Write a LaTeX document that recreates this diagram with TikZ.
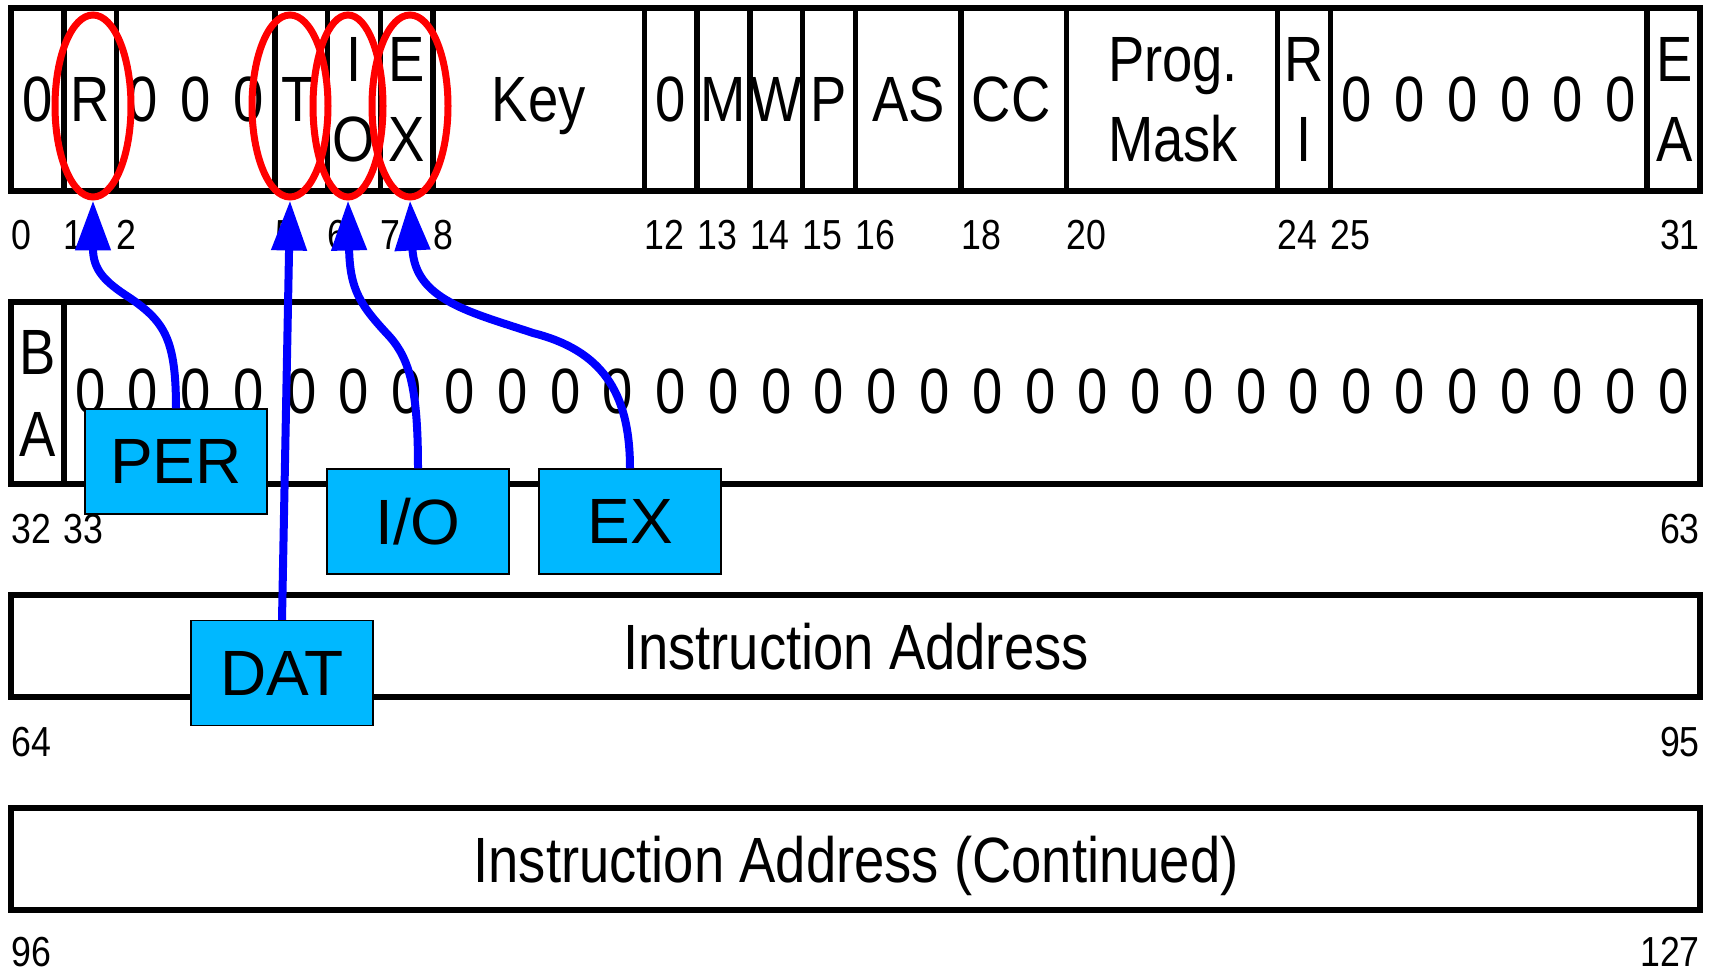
\documentclass[tikz,border=0pt]{standalone}
\usepackage{fontspec}
\usetikzlibrary{arrows.meta,shapes.geometric}
\newfontfamily\narrowfont[FakeStretch=0.85]{Liberation Sans}
\newfontfamily\boxfont{Liberation Sans}
\definecolor{boxblue}{RGB}{0,184,255}
\definecolor{markred}{RGB}{255,0,0}
\definecolor{linkblue}{RGB}{0,0,255}
\begin{document}
\begin{tikzpicture}[x=1pt,y=-1pt,
  cellline/.style={line width=5.5pt, draw=black},
  lbl/.style={font=\narrowfont\fontsize{64}{77}\selectfont, inner sep=0pt, anchor=base},
  num/.style={font=\narrowfont\fontsize{42}{50}\selectfont, inner sep=0pt},
  redring/.style={ellipse, draw=markred, line width=7pt, minimum width=76pt, minimum height=182pt, inner sep=0pt},
  flagbox/.style={rectangle, fill=boxblue, draw=black, line width=1.2pt, minimum width=182pt, minimum height=105pt, inner sep=0pt, font=\boxfont\fontsize{64}{77}\selectfont},
  link/.style={draw=linkblue, line width=8pt, -{Triangle[length=50pt,width=34pt]}},
]
\fill[white] (0,0) rectangle (1713,973);
\useasboundingbox (0,0) rectangle (1713,973);

% ---- rows
\draw[cellline] (11,8) rectangle (1700,191);
\foreach \b in {1,2,5,6,7,8,12,13,14,15,16,18,20,24,25,31}
  \draw[cellline] ({11+\b*52.78},8) -- ({11+\b*52.78},191);
\draw[cellline] (11,302) rectangle (1700,484);
\draw[cellline] (63.78,302) -- (63.78,484);
\draw[cellline] (11,595) rectangle (1700,697);
\draw[cellline] (11,808) rectangle (1700,910);

% ---- top row labels
\node[lbl] (f0) at (37.39,122) {0};
\node[lbl] (fR) at (90.17,122) {R};
\foreach \b in {2,3,4} \node[lbl] (fz\b) at ({11+(\b+0.5)*52.78},122) {0};
\node[lbl] (fT) at (298,122) {T};
\node[lbl] (fIa) at (354.07,82) {I};
\node[lbl] (fIb) at (354.07,162) {O};
\node[lbl] (fEa) at (406.85,82) {E};
\node[lbl] (fEb) at (406.85,162) {X};
\node[lbl] (fKey) at (538.8,122) {Key};
\node[lbl] (f12) at (670.75,122) {0};
\node[lbl] (fM) at (723.5,122) {M};
\node[lbl] (fW) at (776.3,122) {W};
\node[lbl] (fP) at (829.1,122) {P};
\node[lbl] (fAS) at (908.3,122) {AS};
\node[lbl] (fCC) at (1011,122) {CC};
\node[lbl] (fPa) at (1173,82) {Prog.};
\node[lbl] (fPb) at (1173,162) {Mask};
\node[lbl] (fRa) at (1304.1,82) {R};
\node[lbl] (fRb) at (1304.1,162) {I};
\foreach \b in {25,...,30} \node[lbl] (fz\b) at ({11+(\b+0.5)*52.78},122) {0};
\node[lbl] (fEAa) at (1675,82) {E};
\node[lbl] (fEAb) at (1675,162) {A};

% ---- second row labels
\node[lbl] (gBa) at (37.39,374) {B};
\node[lbl] (gBb) at (37.39,456) {A};
\foreach \k in {1,...,31} \node[lbl] (gz\k) at ({11+(\k+0.5)*52.78},413) {0};

% ---- rows 3 and 4
\node[lbl] (ia) at (856,669) {Instruction Address};
\node[lbl] (ib) at (856,882) {Instruction Address (Continued)};

% ---- bit numbers
\foreach \b in {0,1,2,5,6,7,8,12,13,14,15,16,18,20,24,25}
  \node[num, anchor=base west] (n\b) at ({11+\b*52.78},250) {\b};
\node[num, anchor=base east] (n31) at (1700,250) {31};
\node[num, anchor=base west] (n32) at (11,543) {32};
\node[num, anchor=base west] (n33) at (63.78,543) {33};
\node[num, anchor=base east] (n63) at (1700,543) {63};
\node[num, anchor=base west] (n64) at (11,756) {64};
\node[num, anchor=base east] (n95) at (1700,756) {95};
\node[num, anchor=base west] (n96) at (11,966) {96};
\node[num, anchor=base east] (n127) at (1700,966) {127};

% ---- red rings
\node[redring] (eR) at (93,106) {};
\node[redring] (eT) at (290,106) {};
\node[redring, minimum width=70pt] (eIO) at (348,106) {};
\node[redring] (eEX) at (410,106) {};

% ---- blue boxes
\node[flagbox] (per) at (176,461.5) {PER};
\node[flagbox] (io) at (418,521.5) {I/O};
\node[flagbox] (ex) at (630,521.5) {EX};
\node[flagbox] (dat) at (282,673) {DAT};

% ---- links
\draw[link] (per.north) .. controls (176,340) and (165,322) .. (130,298)
  .. controls (105,282) and (93,270) .. (eR.south);
\draw[link] (io.north) .. controls (418,390) and (410,360) .. (390,337)
  .. controls (360,305) and (350,290) .. (eIO.south);
\draw[link] (ex.north) .. controls (630,390) and (600,350) .. (533,333)
  .. controls (470,312) and (415,300) .. (eEX.south);
\draw[link] (dat.north) -- (eT.south);
\end{tikzpicture}
\end{document}
